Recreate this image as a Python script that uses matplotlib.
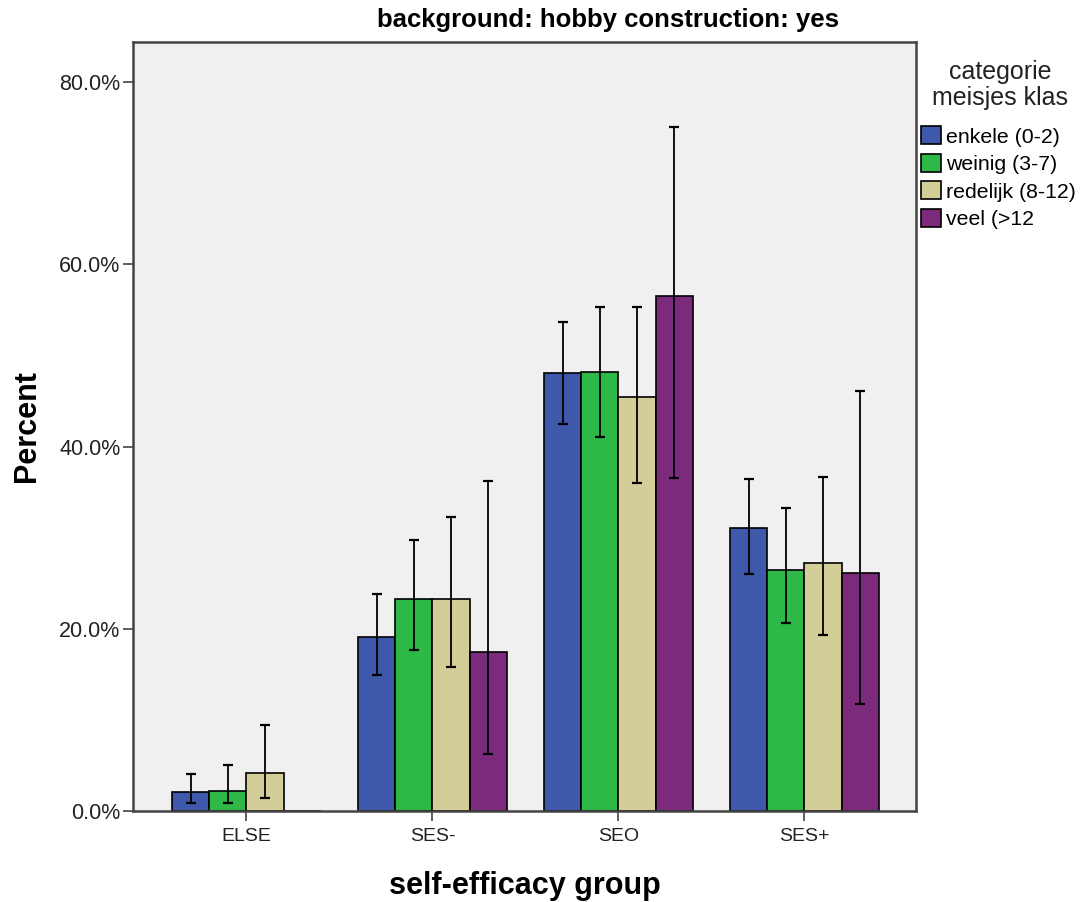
import numpy as np
import matplotlib
matplotlib.use("Agg")
import matplotlib.pyplot as plt
from matplotlib.ticker import FuncFormatter
from matplotlib.patches import Patch

plt.rcParams['font.family'] = ['Liberation Sans', 'DejaVu Sans']

groups = ['ELSE', 'SES-', 'SEO', 'SES+']
series = ['enkele (0-2)', 'weinig (3-7)', 'redelijk (8-12)', 'veel (>12']
colors = ['#3e58ac', '#2eb848', '#d3ce97', '#7b2a7c']

# percent per group, one list per series
enkele = [2.05, 19.06, 48.03, 31.02]
weinig = [2.19, 23.23, 48.21, 26.48]
redelijk = [4.14, 23.23, 45.47, 27.25]
veel = [0.0, 17.42, 56.57, 26.08]

# 95% CI bounds
enkele_lo = [0.84, 14.89, 42.44, 26.04]
enkele_hi = [4.09, 23.78, 53.63, 36.43]
weinig_lo = [0.84, 17.67, 41.04, 20.60]
weinig_hi = [5.08, 29.74, 55.31, 33.22]
redelijk_lo = [1.39, 15.77, 35.96, 19.28]
redelijk_hi = [9.44, 32.23, 55.31, 36.62]
veel_lo = [np.nan, 6.26, 36.51, 11.78]
veel_hi = [np.nan, 36.21, 75.06, 46.09]

values = [enkele, weinig, redelijk, veel]
lows = [enkele_lo, weinig_lo, redelijk_lo, veel_lo]
highs = [enkele_hi, weinig_hi, redelijk_hi, veel_hi]

fig = plt.figure(figsize=(10.82, 9.02), dpi=100)
fig.patch.set_facecolor('white')
ax = fig.add_axes([133/1082, 1 - 811/902, (916-133)/1082, (811-42)/902])
ax.set_facecolor('#f0f0f0')

x = np.arange(len(groups))
w = 0.2
for i in range(4):
    xs = x + (i - 1.5) * w
    v = np.array(values[i])
    lo = np.array(lows[i])
    hi = np.array(highs[i])
    ax.bar(xs, v, width=w, color=colors[i], edgecolor='black', linewidth=1.2, zorder=2)
    ax.errorbar(xs, v, yerr=[v - lo, hi - v], fmt='none', ecolor='black',
                elinewidth=1.3, capsize=3.5, capthick=1.6, zorder=3)

ax.set_xlim(-0.61, 3.6)
ax.set_ylim(0, 84.4)
ax.set_yticks([0, 20, 40, 60, 80])
ax.yaxis.set_major_formatter(FuncFormatter(lambda v, p: f'{v:.1f}%'))
ax.set_xticks(x)
ax.set_xticklabels(groups)
ax.tick_params(axis='both', length=7, width=1.2, color='#444444', labelcolor='#222222')
ax.tick_params(axis='y', labelsize=15.5, pad=2)
ax.tick_params(axis='x', labelsize=14, pad=5)
for s in ax.spines.values():
    s.set_color('#444444')
    s.set_linewidth(1.8)

ax.set_xlabel('self-efficacy group', fontsize=22, fontweight='bold')
ax.set_ylabel('Percent', fontsize=22, fontweight='bold')
ax.xaxis.set_label_coords(0.5, -0.078)
ax.yaxis.set_label_coords(-0.116, 0.5)

fig.text(608/1082, 1 - 20/902, 'background: hobby construction: yes', ha='center',
         va='center', fontsize=18.5, fontweight='bold')

# legend title drawn separately so it can sit centred above the entries
fig.text(1000/1082, 1 - 85/902, 'categorie\nmeisjes klas', ha='center', va='center',
         fontsize=18, color='#222222', linespacing=1.1)

handles = [Patch(facecolor=c, edgecolor='black', linewidth=1.2) for c in colors]
leg = fig.legend(handles, series, loc='upper left', bbox_to_anchor=(919/1082, 1 - 124/902),
                 frameon=False, fontsize=15.3, handlelength=0.95, handleheight=0.95,
                 handletextpad=0.2, labelspacing=0.33, borderpad=0.1,
                 borderaxespad=0)

plt.savefig('out.png', dpi=100)
